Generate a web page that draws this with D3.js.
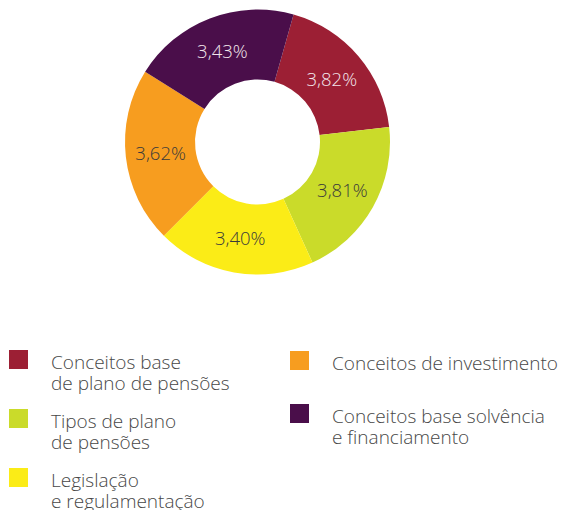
<!DOCTYPE html>
<html><head><meta charset="utf-8">
<script src="https://cdn.jsdelivr.net/npm/d3@7"></script>
<style>
html,body{margin:0;padding:0;background:#fff;}
svg{display:block;font-family:"Open Sans",sans-serif;}
</style></head>
<body>
<svg id="c" width="561" height="510"></svg>
<script>
// Data
const categories = ["Conceitos base de plano de pensões","Tipos de plano de pensões","Legislação e regulamentação","Conceitos de investimento","Conceitos base solvência e financiamento"];
const legendLines = [["Conceitos base","de plano de pensões"],["Tipos de plano","de pensões"],["Legislação","e regulamentação"],["Conceitos de investimento"],["Conceitos base solvência","e financiamento"]];
const valueLabels = ["3,82%","3,81%","3,40%","3,62%","3,43%"];
const sliceShare = [18.8, 20.0, 19.3, 21.4, 20.5]; // slice sizes
const colors = ["#9c1f34","#cadb2a","#fbec17","#f79d1f","#4a0e4a"];
const labelColors = ["#f3e6ec","#3a3a3a","#3a3a3a","#3a3a3a","#f3e6ec"];

const svg = d3.select("#c");
const cx = 257.5, cy = 142, rOuter = 132.5, rInner = 62.5;
const startDeg = 15.8;
const pie = d3.pie().sort(null).value(d => d)
  .startAngle(startDeg*Math.PI/180).endAngle((startDeg+360)*Math.PI/180);
const arc = d3.arc().innerRadius(rInner).outerRadius(rOuter);
const arcs = pie(sliceShare);
const g = svg.append("g").attr("transform", `translate(${cx},${cy})`);
g.selectAll("path").data(arcs).enter().append("path")
  .attr("d", arc).attr("fill", (d,i) => colors[i]);
g.selectAll("text").data(arcs).enter().append("text")
  .attr("transform", d => { const c = arc.centroid(d); return `translate(${c[0]},${c[1]})`; })
  .attr("text-anchor","middle").attr("dy","0.36em")
  .attr("font-size", 18.5).attr("font-weight", 300)
  .attr("fill", (d,i) => labelColors[i])
  .text((d,i) => valueLabels[i]);

// Legend
const legendPos = [[9,350],[9,409],[9,468],[290,351],[290,404]];
const lg = svg.append("g");
categories.forEach((c,i) => {
  const [x,y] = legendPos[i];
  lg.append("rect").attr("x",x).attr("y",y).attr("width",19).attr("height",19).attr("fill",colors[i]);
  const t = lg.append("text").attr("x", x+42).attr("y", y+19)
    .attr("font-size", 19).attr("font-weight",300).attr("fill","#474747");
  legendLines[i].forEach((l,j) => {
    t.append("tspan").attr("x", x+42).attr("dy", j===0 ? 0 : 20.5).text(l);
  });
});
</script>
</body></html>
